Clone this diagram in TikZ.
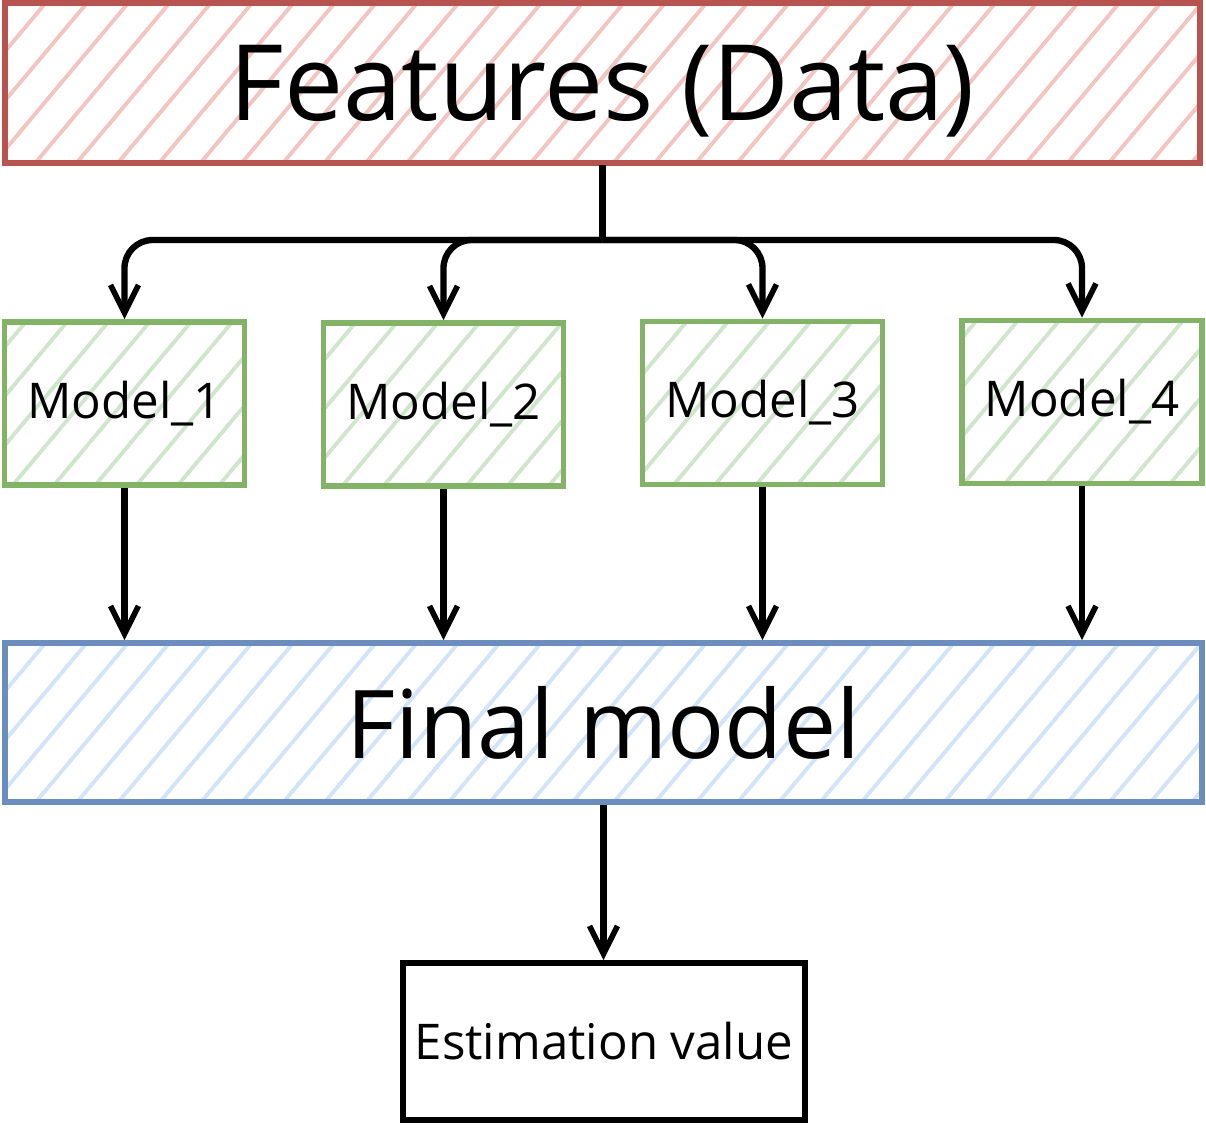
\documentclass[tikz,border=0pt]{standalone}
\usepackage{fontspec}
\setmainfont{Open Sans}
\usetikzlibrary{arrows.meta, patterns.meta}

\definecolor{rougebord}{HTML}{B85450}
\definecolor{rougefond}{HTML}{F4C4C0}
\definecolor{vertbord}{HTML}{82B366}
\definecolor{vertfond}{HTML}{CFE6CD}
\definecolor{bleubord}{HTML}{6C8EBF}
\definecolor{bleufond}{HTML}{D2E4FA}

\begin{document}
\begin{tikzpicture}
% définition des styles
\tikzstyle{donnees}=[rectangle, draw=rougebord, line width=1.6pt, pattern={Lines[angle=50, distance=9pt, line width=1.1pt]}, pattern color=rougefond, minimum width=11.95cm, minimum height=1.6cm, text depth=0pt, font=\fontsize{30}{34}\selectfont]
\tikzstyle{modele}=[rectangle, draw=vertbord, line width=1.6pt, pattern={Lines[angle=50, distance=9pt, line width=1.1pt]}, pattern color=vertfond, minimum width=2.4cm, minimum height=1.63cm, inner sep=0pt, font=\fontsize{14}{17}\selectfont]
\tikzstyle{final}=[rectangle, draw=bleubord, line width=1.6pt, pattern={Lines[angle=50, distance=9pt, line width=1.1pt]}, pattern color=bleufond, minimum width=11.97cm, minimum height=1.59cm, font=\fontsize{27}{31}\selectfont]
\tikzstyle{sortie}=[rectangle, draw=black, line width=1.6pt, fill=white, minimum width=4.02cm, minimum height=1.57cm, inner sep=0pt, font=\fontsize{14}{17}\selectfont]
\tikzstyle{fleche}=[-{Straight Barb[length=2.8mm, width=2.8mm, line width=1.6pt]}, line width=1.8pt, color=black]

\useasboundingbox (0,0) rectangle (12.06,-11.40);

% les nœuds
\node[donnees] (F) at (6.025,-0.83) {Features (Data)};
\node[modele] (M1) at (1.245,-4.035) {Model\_1};
\node[modele] (M2) at (4.435,-4.045) {Model\_2};
\node[modele] (M3) at (7.625,-4.03) {Model\_3};
\node[modele] (M4) at (10.82,-4.02) {Model\_4};
\node[final] (FM) at (6.035,-7.225) {Final model};
\node[sortie] (E) at (6.04,-10.415) {Estimation value};
\coordinate (B) at (6.025,-2.40);

% les flèches
\draw[line width=1.8pt] (F.south) -- (B);
\foreach \m in {M1,M2,M3,M4}{
  \draw[fleche, rounded corners=8pt] (B) -| (\m.north);
  \draw[fleche] (\m.south) -- (\m.south |- FM.north);
}
\draw[fleche] (FM.south) -- (FM.south |- E.north);
\end{tikzpicture}
\end{document}
